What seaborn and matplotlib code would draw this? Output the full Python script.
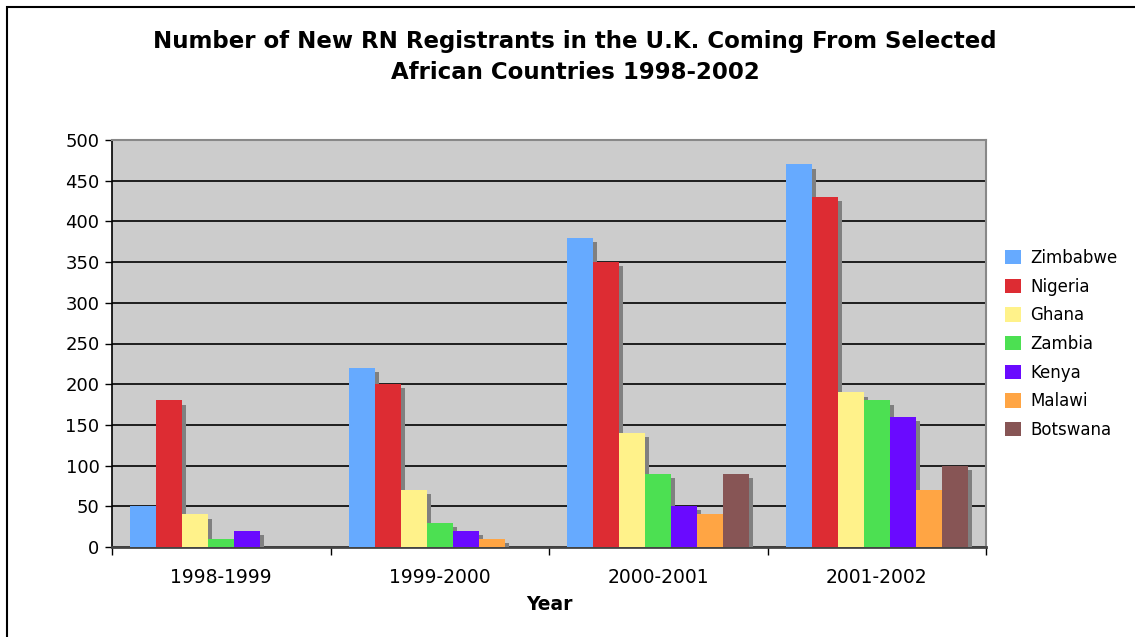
import matplotlib
matplotlib.use("Agg")
import matplotlib.pyplot as plt
import matplotlib.patheffects as pe
from matplotlib.patches import Rectangle, Patch
import seaborn as sns
import pandas as pd

years = ["1998-1999", "1999-2000", "2000-2001", "2001-2002"]
countries = ["Zimbabwe", "Nigeria", "Ghana", "Zambia", "Kenya", "Malawi", "Botswana"]
zimbabwe = [50, 220, 380, 470]
nigeria = [180, 200, 350, 430]
ghana = [40, 70, 140, 190]
zambia = [10, 30, 90, 180]
kenya = [20, 20, 50, 160]
malawi = [0, 10, 40, 70]
botswana = [0, 0, 90, 100]
colors = ["#66AAFF", "#DD2C33", "#FFF28A", "#4CE052", "#6A0AFF", "#FFA544", "#875555"]

series = [zimbabwe, nigeria, ghana, zambia, kenya, malawi, botswana]
rows = []
for c, vals in zip(countries, series):
    for y, v in zip(years, vals):
        rows.append({"Year": y, "Country": c, "Value": v})
df = pd.DataFrame(rows)

sns.set_style("white")
plt.rcParams["font.family"] = ["DejaVu Sans"]
plt.rcParams["text.color"] = "black"
plt.rcParams["xtick.color"] = "black"
plt.rcParams["ytick.color"] = "black"
plt.rcParams["axes.labelcolor"] = "black"

fig = plt.figure(figsize=(11.35, 6.37), dpi=100)
ax = fig.add_axes([112/1135, 1-547/637, (986-112)/1135, (547-140)/637])
ax.set_facecolor("#CCCCCC")

sns.barplot(data=df, x="Year", y="Value", hue="Country", order=years,
            hue_order=countries, palette=colors, width=0.833, gap=0,
            saturation=1, errorbar=None, ax=ax, zorder=3, linewidth=0, legend=False)

for p in ax.patches:
    if p.get_height() > 0:
        p.set_path_effects([pe.SimplePatchShadow(offset=(3, -3), shadow_rgbFace="#808080", alpha=1.0),
                            pe.Normal()])

ax.set_ylim(0, 500)
ax.set_xlim(-0.5, 3.5)
ax.set_yticks(range(0, 501, 50))
ax.yaxis.grid(True, color="black", linewidth=1.2, zorder=1)
ax.set_axisbelow(True)
ax.tick_params(axis="y", which="major", length=5, width=1, color="black", labelsize=13, pad=4, left=True)
ax.tick_params(axis="x", which="major", length=0, labelsize=13.5, pad=15)
ax.set_xticks([-0.5, 0.5, 1.5, 2.5, 3.5], minor=True)
ax.tick_params(axis="x", which="minor", length=6, width=1, color="black", bottom=True)

for s in ["top", "right"]:
    ax.spines[s].set_color("#888888")
    ax.spines[s].set_linewidth(1.5)
ax.spines["left"].set_color("black")
ax.spines["left"].set_linewidth(1.2)
ax.spines["bottom"].set_color("#444444")
ax.spines["bottom"].set_linewidth(2)

ax.set_ylabel("")
ax.set_xlabel("Year", fontsize=13.5, fontweight="bold", labelpad=6)

handles = [Patch(facecolor=c, edgecolor="none", label=n) for c, n in zip(colors, countries)]
ax.legend(handles=handles, loc="center left", bbox_to_anchor=(1005/1135, 1-344/637),
          bbox_transform=fig.transFigure, frameon=False, fontsize=12,
          handlelength=0.95, handleheight=0.95, handletextpad=0.55, labelspacing=0.64,
          borderaxespad=0, borderpad=0)

fig.text(575/1135, 1-57/637, "Number of New RN Registrants in the U.K. Coming From Selected\nAfrican Countries 1998-2002",
         ha="center", va="center", fontsize=16.5, fontweight="bold", linespacing=1.45)

fig.patches.append(Rectangle((7/1135, -0.1), 1.2, 1.1 - 7/637, transform=fig.transFigure,
                             fill=False, edgecolor="black", linewidth=1.5, zorder=10))

fig.savefig("out.png", dpi=100)
